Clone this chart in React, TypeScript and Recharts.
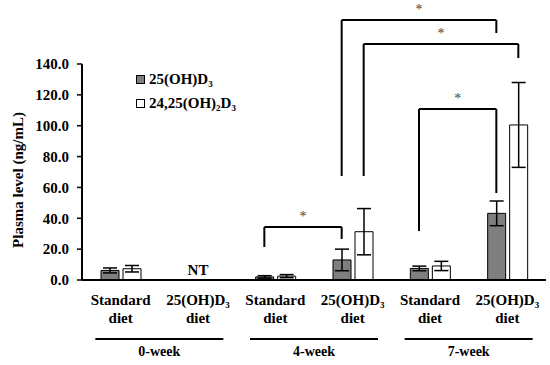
import React from "react";
import {
  BarChart,
  Bar,
  XAxis,
  YAxis,
  ErrorBar,
  Legend,
  ReferenceLine,
  ReferenceDot,
} from "recharts";

const FONT = "Liberation Serif, Tinos, DejaVu Serif, serif";

const catIds = ["std0", "d30", "std4", "d34", "std7", "d37"];
const dietLabels = [
  ["Standard", "diet"],
  ["25(OH)D₃", "diet"],
  ["Standard", "diet"],
  ["25(OH)D₃", "diet"],
  ["Standard", "diet"],
  ["25(OH)D₃", "diet"],
];
const weeks = ["0-week", "0-week", "4-week", "4-week", "7-week", "7-week"];

// 25(OH)D3 (grey) and 24,25(OH)2D3 (white); null = not tested
const ohD3 = [6.2, null, 2.0, 13.0, 7.5, 43.2];
const ohD3Err = [1.6, null, 0.8, 7.0, 1.5, 8.0];
const diOhD3 = [7.3, null, 2.5, 31.3, 9.1, 100.5];
const diOhD3Err = [2.1, null, 1.0, 15.0, 3.0, 27.5];

const yTicks = [0, 20, 40, 60, 80, 100, 120, 140];

// significance brackets: side -1 = grey bar, +1 = white bar
const brackets = [
  { from: "std4", fromSide: -1, to: "d34", toSide: -1, yLeft: 21.4, yTop: 34.3, yRight: 26.6 },
  { from: "d34", fromSide: -1, to: "d37", toSide: -1, yLeft: 67.4, yTop: 168.5, yRight: 160.1 },
  { from: "d34", fromSide: 1, to: "d37", toSide: 1, yLeft: 67.4, yTop: 153.0, yRight: 143.9 },
  { from: "std7", fromSide: -1, to: "d37", toSide: -1, yLeft: 31.8, yTop: 110.8, yRight: 56.4 },
];

const data = catIds.map((id, i) => ({
  id,
  week: weeks[i],
  oh: ohD3[i],
  ohErr: ohD3Err[i],
  di: diOhD3[i],
  diErr: diOhD3Err[i],
}));

const BAR = 18;
const GAP = 4;
const HALF = (BAR + GAP) / 2;

const DietTick = ({ x, y, payload }: any) => {
  const idx = catIds.indexOf(payload.value);
  const [a, b] = dietLabels[idx];
  return (
    <text x={x} y={y} textAnchor="middle" fontFamily={FONT} fontWeight={700} fontSize={15} fill="#000">
      <tspan x={x} dy={25}>{a}</tspan>
      <tspan x={x} dy={18}>{b}</tspan>
    </text>
  );
};

const WeekTick = ({ x, y, payload }: any) => (
  <g>
    <line x1={x - 64} x2={x + 64} y1={y + 7} y2={y + 7} stroke="#000" strokeWidth={2} />
    <text x={x} y={y + 24} textAnchor="middle" fontFamily={FONT} fontWeight={700} fontSize={14} fill="#000">
      {payload.value}
    </text>
  </g>
);

const seg = (dx1: number, dx2: number, star?: boolean) => (p: any) => (
  <g>
    <line x1={p.x1 + dx1} y1={p.y1} x2={p.x2 + dx2} y2={p.y2} stroke="#000" strokeWidth={2} />
    {star && (
      <text
        x={(p.x1 + dx1 + p.x2 + dx2) / 2}
        y={p.y1 - 6}
        textAnchor="middle"
        fontFamily={FONT}
        fontSize={14}
        fill="#444"
      >
        *
      </text>
    )}
  </g>
);

const renderLegend = () => (
  <div style={{ fontFamily: FONT, fontWeight: 700, fontSize: 15, color: "#000", lineHeight: "24px" }}>
    <div>
      <span style={{ display: "inline-block", width: 7, height: 7, background: "#7f7f7f", border: "1px solid #000", marginRight: 4 }} />
      25(OH)D₃
    </div>
    <div>
      <span style={{ display: "inline-block", width: 7, height: 7, background: "#fff", border: "1px solid #000", marginRight: 4 }} />
      24,25(OH)₂D₃
    </div>
  </div>
);

export default function App() {
  return (
    <div style={{ position: "absolute", left: 0, top: 0, background: "#fff" }}>
      <BarChart
        width={550}
        height={365}
        data={data}
        margin={{ top: 64, right: 4, bottom: 0, left: 0 }}
        barSize={BAR}
        barGap={GAP}
      >
        <XAxis
          dataKey="id"
          height={52}
          tickSize={0}
          tickMargin={0}
          tick={<DietTick />}
          axisLine={{ stroke: "#000", strokeWidth: 2 }}
          interval={0}
        />
        <XAxis
          xAxisId="week"
          dataKey="week"
          allowDuplicatedCategory={false}
          height={33}
          tickSize={0}
          tickMargin={0}
          axisLine={false}
          tick={<WeekTick />}
          interval={0}
        />
        <YAxis
          width={82}
          domain={[0, 140]}
          ticks={yTicks}
          tickFormatter={(v: number) => v.toFixed(1)}
          tickSize={5}
          tickMargin={8}
          axisLine={{ stroke: "#000", strokeWidth: 2 }}
          tickLine={{ stroke: "#000", strokeWidth: 1.5 }}
          tick={{ fill: "#000", fontSize: 15, fontWeight: 700, fontFamily: FONT }}
          label={{
            content: ({ viewBox }: any) => (
              <text
                x={viewBox.x + 18}
                y={viewBox.y + viewBox.height / 2 + 8}
                transform={`rotate(-90, ${viewBox.x + 18}, ${viewBox.y + viewBox.height / 2 + 8})`}
                textAnchor="middle"
                dominantBaseline="central"
                fontFamily={FONT}
                fontWeight={700}
                fontSize={15}
                fill="#000"
              >
                Plasma level (ng/mL)
              </text>
            ),
          }}
        />
        <Legend
          content={renderLegend}
          layout="vertical"
          align="center"
          verticalAlign="middle"
          wrapperStyle={{ left: 136, top: 67, width: 130 }}
        />
        <Bar dataKey="oh" name="25(OH)D₃" fill="#7f7f7f" stroke="#000" strokeWidth={1} isAnimationActive={false}>
          <ErrorBar dataKey="ohErr" width={7} stroke="#000" strokeWidth={1.5} />
        </Bar>
        <Bar dataKey="di" name="24,25(OH)₂D₃" fill="#fff" stroke="#000" strokeWidth={1} isAnimationActive={false}>
          <ErrorBar dataKey="diErr" width={7} stroke="#000" strokeWidth={1.5} />
        </Bar>
        <ReferenceDot
          x="d30"
          y={7}
          r={0}
          fill="none"
          stroke="none"
          label={{ value: "NT", position: "center", fontFamily: FONT, fontWeight: 700, fontSize: 15, fill: "#000" }}
        />
        {brackets.map((b, i) => (
          <React.Fragment key={i}>
            <ReferenceLine
              ifOverflow="visible"
              segment={[{ x: b.from, y: b.yLeft }, { x: b.from, y: b.yTop }]}
              shape={seg(b.fromSide * HALF, b.fromSide * HALF)}
            />
            <ReferenceLine
              ifOverflow="visible"
              segment={[{ x: b.from, y: b.yTop }, { x: b.to, y: b.yTop }]}
              shape={seg(b.fromSide * HALF, b.toSide * HALF, true)}
            />
            <ReferenceLine
              ifOverflow="visible"
              segment={[{ x: b.to, y: b.yTop }, { x: b.to, y: b.yRight }]}
              shape={seg(b.toSide * HALF, b.toSide * HALF)}
            />
          </React.Fragment>
        ))}
      </BarChart>
    </div>
  );
}
